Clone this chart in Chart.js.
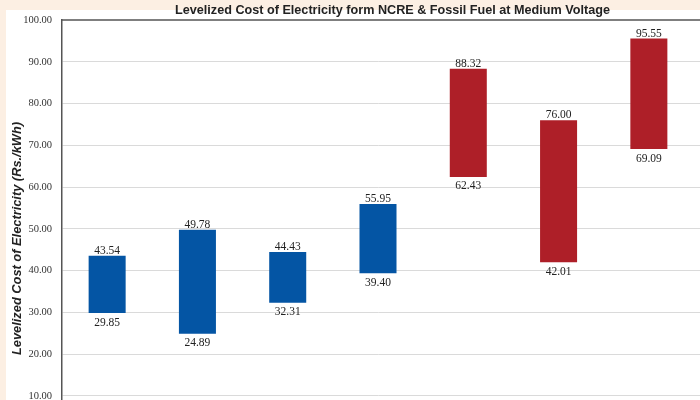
<!DOCTYPE html>
<html>
<head>
<meta charset="utf-8">
<script src="https://cdn.jsdelivr.net/npm/chart.js@4"></script>
<style>
html,body{margin:0;padding:0;width:700px;height:400px;overflow:hidden;background:#fcefe3;}
#panel{position:absolute;left:6px;top:10px;width:694px;height:390px;background:#ffffff;}
#c{position:absolute;left:0;top:0;width:700px;height:454px;}
</style>
</head>
<body>
<div id="panel"></div>
<canvas id="c" width="700" height="454"></canvas>
<script>
const chartTitle = 'Levelized Cost of Electricity form NCRE & Fossil Fuel at Medium Voltage';
const yAxisTitle = 'Levelized Cost of Electricity (Rs./kWh)';
const categories = ['NCRE 1', 'NCRE 2', 'NCRE 3', 'NCRE 4', 'Fossil 1', 'Fossil 2', 'Fossil 3'];
const groups = ['NCRE', 'NCRE', 'NCRE', 'NCRE', 'Fossil', 'Fossil', 'Fossil'];
const lowValues = [29.85, 24.89, 32.31, 39.40, 62.43, 42.01, 69.09];
const highValues = [43.54, 49.78, 44.43, 55.95, 88.32, 76.00, 95.55];
const yMin = 0, yMax = 100, yStep = 10;

const ncreData = categories.map((c, i) => groups[i] === 'NCRE' ? [lowValues[i], highValues[i]] : null);
const fossilData = categories.map((c, i) => groups[i] === 'Fossil' ? [lowValues[i], highValues[i]] : null);

const BLUE = '#0455a4';
const RED = '#ae1f28';

const alignPx = y => Math.round(y - 0.5) + 0.5;

const textPlugin = {
  id: 'textPlugin',
  afterDatasetsDraw(chart) {
    const ctx = chart.ctx;
    const xs = chart.scales.x, ys = chart.scales.y;
    ctx.save();
    ctx.fillStyle = '#222';
    ctx.font = '11.5px "Liberation Serif", "DejaVu Serif", serif';
    ctx.textAlign = 'center';
    ctx.textBaseline = 'middle';
    categories.forEach((c, i) => {
      const x = xs.getPixelForValue(i);
      ctx.fillText(highValues[i].toFixed(2), x, ys.getPixelForValue(highValues[i]) - 5);
      ctx.fillText(lowValues[i].toFixed(2), x, ys.getPixelForValue(lowValues[i]) + 9.5);
    });
    ctx.restore();
  },
  afterDraw(chart) {
    const ctx = chart.ctx;
    const ys = chart.scales.y;
    const area = chart.chartArea;
    ctx.save();
    ys.ticks.forEach(t => {
      if (t.value === yMax) return;
      const y = alignPx(ys.getPixelForValue(t.value));
      ctx.strokeStyle = '#dadada';
      ctx.lineWidth = 1;
      ctx.beginPath(); ctx.moveTo(area.right - 1, y); ctx.lineTo(chart.width, y); ctx.stroke();
    });
    const yt = ys.getPixelForValue(yMax);
    ctx.strokeStyle = '#555';
    ctx.lineWidth = 1.5;
    ctx.beginPath(); ctx.moveTo(area.left, yt); ctx.lineTo(chart.width, yt); ctx.stroke();
    ctx.fillStyle = '#222';
    ctx.font = 'bold 13px "Liberation Sans", Arial, sans-serif';
    ctx.textAlign = 'center';
    ctx.textBaseline = 'middle';
    let w = ctx.measureText(chartTitle).width;
    ctx.save();
    ctx.translate(392.5, 10);
    ctx.scale(435 / w, 1);
    ctx.fillText(chartTitle, 0, 0);
    ctx.restore();
    ctx.font = 'italic bold 13px "Liberation Sans", Arial, sans-serif';
    w = ctx.measureText(yAxisTitle).width;
    ctx.save();
    ctx.translate(17, 238.5);
    ctx.rotate(-Math.PI / 2);
    ctx.scale(233 / w, 1);
    ctx.fillText(yAxisTitle, 0, 0);
    ctx.restore();
    ctx.restore();
  }
};

new Chart(document.getElementById('c'), {
  type: 'bar',
  data: {
    labels: categories,
    datasets: [
      { label: 'NCRE', data: ncreData, backgroundColor: BLUE, borderWidth: 0, grouped: false, barPercentage: 0.41, categoryPercentage: 1 },
      { label: 'Fossil Fuel', data: fossilData, backgroundColor: RED, borderWidth: 0, grouped: false, barPercentage: 0.41, categoryPercentage: 1 }
    ]
  },
  options: {
    responsive: false,
    animation: false,
    layout: { padding: { top: 20, right: 6, bottom: 5, left: 0 } },
    plugins: { legend: { display: false }, title: { display: false }, tooltip: { enabled: false } },
    scales: {
      x: { display: false, offset: true, grid: { display: false } },
      y: {
        min: yMin, max: yMax,
        afterFit: s => { s.width = 62; },
        border: { display: true, color: '#555', width: 1.5 },
        grid: { color: ctx => ctx.tick && ctx.tick.value === yMax ? 'rgba(0,0,0,0)' : '#dadada', lineWidth: 1, drawTicks: false },
        ticks: {
          stepSize: yStep,
          padding: 10,
          color: '#333',
          font: { family: '"Liberation Serif", "DejaVu Serif", serif', size: 10.5 },
          callback: v => Number(v).toFixed(2)
        }
      }
    }
  },
  plugins: [textPlugin]
});
</script>
</body>
</html>
